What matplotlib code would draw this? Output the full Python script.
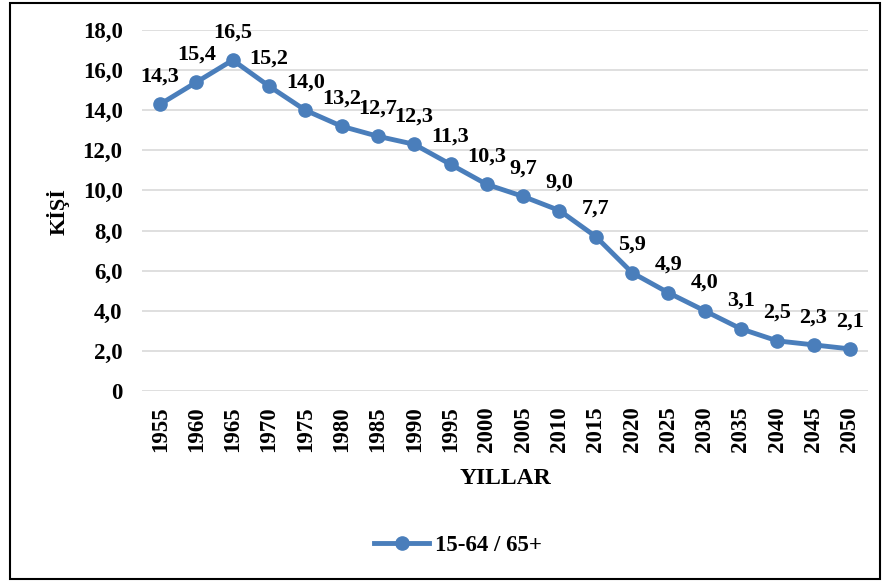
import numpy as np
import matplotlib.pyplot as plt
from matplotlib.patches import Rectangle

plt.rcParams["font.family"] = ["Liberation Serif", "DejaVu Serif"]
plt.rcParams["font.weight"] = "bold"

# veriler
years = ["1955", "1960", "1965", "1970", "1975", "1980", "1985", "1990",
         "1995", "2000", "2005", "2010", "2015", "2020", "2025", "2030",
         "2035", "2040", "2045", "2050"]
ratio = [14.3, 15.4, 16.5, 15.2, 14.0, 13.2, 12.7, 12.3, 11.3, 10.3,
         9.7, 9.0, 7.7, 5.9, 4.9, 4.0, 3.1, 2.5, 2.3, 2.1]
series_label = "15-64 / 65+"

W, H = 891, 582
fig = plt.figure(figsize=(W / 100, H / 100), dpi=100)
ax = fig.add_axes([142 / W, 1 - 391 / H, (868 - 142) / W, (391 - 30) / H])

x = np.arange(len(years))
line_color = "#4A7EBB"
ax.plot(x, ratio, color=line_color, linewidth=3.5, marker="o",
        markersize=9.5, label=series_label, zorder=3)

# veri etiketleri
for xi, v in zip(x, ratio):
    ax.annotate(f"{v:.1f}".replace(".", ","), (xi, v), xytext=(0, 20),
                textcoords="offset points", ha="center", va="center",
                fontsize=16, fontweight="bold")

ax.set_xlim(-0.5, len(years) - 0.5)
ax.set_ylim(0, 18)
ax.set_yticks(np.arange(0, 19, 2))
ax.set_yticklabels(["0"] + [f"{v:.1f}".replace(".", ",")
                            for v in np.arange(2, 19, 2)])
ax.set_xticks(x)
ax.set_xticklabels(years, rotation=90)
ax.tick_params(axis="both", length=0, labelsize=16.5)
ax.tick_params(axis="x", pad=11)
ax.tick_params(axis="y", pad=14)
ax.grid(axis="y", color="#D9D9D9", linewidth=1.2)
ax.set_axisbelow(True)
for s in ax.spines.values():
    s.set_visible(False)

ax.set_ylabel("KİŞİ", fontsize=16, fontweight="bold", va="center")
ax.yaxis.set_label_coords(58 / W, 1 - 212 / H, transform=fig.transFigure)
ax.set_xlabel("YILLAR", fontsize=17, fontweight="bold", va="center")
ax.xaxis.set_label_coords(505 / W, 1 - 478 / H, transform=fig.transFigure)

leg = fig.legend(loc="center", bbox_to_anchor=(458 / W, 1 - 545 / H),
                 frameon=False, prop={"size": 16.5, "weight": "bold"},
                 handlelength=2.4, handletextpad=0.25)

# cerceve
fig.patches.append(Rectangle((10 / W, 3 / H), (880 - 10) / W, (579 - 3) / H,
                             transform=fig.transFigure, fill=False,
                             edgecolor="black", linewidth=1.5))

fig.savefig("out.png", dpi=100)
